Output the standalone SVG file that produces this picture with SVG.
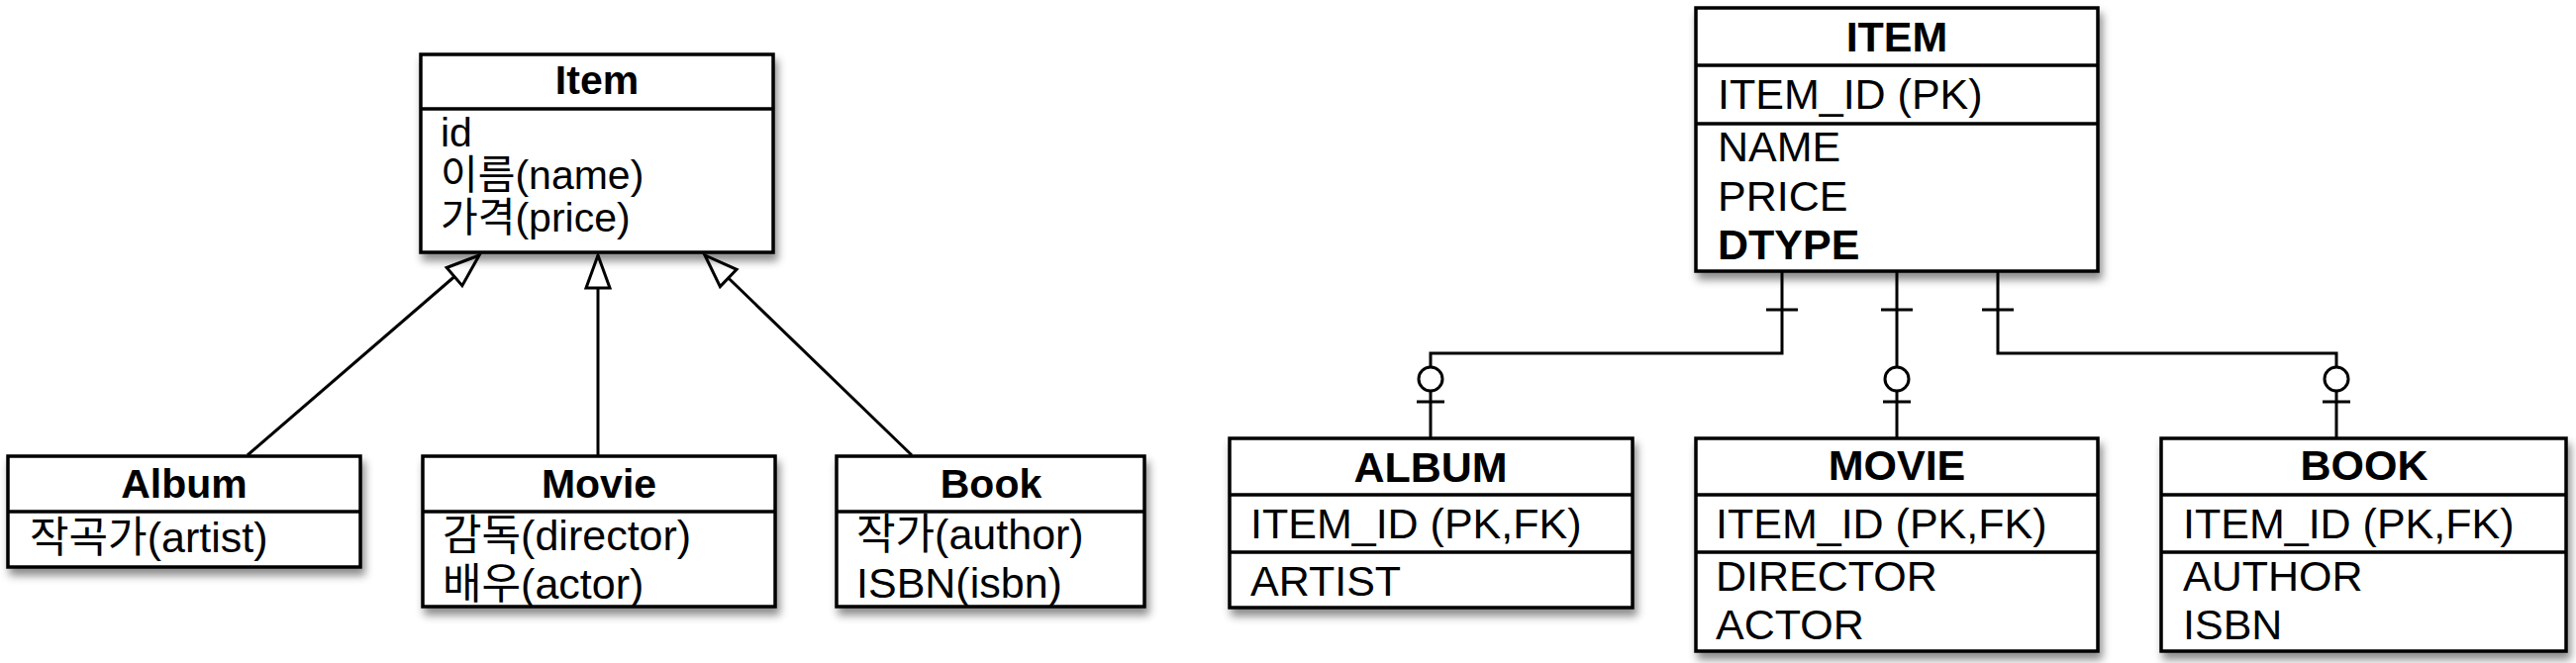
<svg xmlns="http://www.w3.org/2000/svg" width="2602" height="670" viewBox="0 0 2602 670">
<style>
.box{fill:#fff;stroke:#000;stroke-width:3.5;filter:url(#sh)}
.div{stroke:#000;stroke-width:3.5}
.t{font-family:"Liberation Sans","Noto Sans CJK KR",sans-serif;font-weight:bold;text-anchor:middle;fill:#000}
.b{font-family:"Liberation Sans","Noto Sans CJK KR",sans-serif;fill:#000}
.lt{font-size:41px}
.lb{font-size:43px}
.ib{font-size:41px}
.rt{font-size:43px}
.rb{font-size:43px}
.con{fill:none;stroke:#000;stroke-width:3}
.bar{stroke:#000;stroke-width:3}
.circ{fill:#fff;stroke:#000;stroke-width:3}
</style>
<defs>
<filter id="sh" x="-10%" y="-10%" width="125%" height="130%">
<feDropShadow dx="3" dy="7" stdDeviation="4" flood-color="#000" flood-opacity="0.45"/>
</filter>
<marker id="tri" viewBox="-36 -15 40 30" refX="0" refY="0" markerWidth="40" markerHeight="30" markerUnits="userSpaceOnUse" orient="auto">
<path d="M0,0 L-33,-12 L-33,12 Z" fill="#fff" stroke="#000" stroke-width="3" stroke-linejoin="miter"/>
</marker>
</defs>

<g id="connectors">
<line class="con" x1="250" y1="460" x2="484" y2="258" marker-end="url(#tri)"/>
<line class="con" x1="604" y1="460" x2="604" y2="258" marker-end="url(#tri)"/>
<line class="con" x1="921" y1="460" x2="712" y2="258" marker-end="url(#tri)"/>

<path class="con" d="M1800,274 V357 H1445 V443"/>
<line class="bar" x1="1784" y1="313" x2="1816" y2="313"/>
<line class="bar" x1="1431" y1="406" x2="1459" y2="406"/>
<circle class="circ" cx="1445" cy="383" r="12"/>

<path class="con" d="M1916,274 V443"/>
<line class="bar" x1="1900" y1="313" x2="1932" y2="313"/>
<line class="bar" x1="1902" y1="406" x2="1930" y2="406"/>
<circle class="circ" cx="1916" cy="383" r="12"/>

<path class="con" d="M2018,274 V357 H2360 V443"/>
<line class="bar" x1="2002" y1="313" x2="2034" y2="313"/>
<line class="bar" x1="2346" y1="406" x2="2374" y2="406"/>
<circle class="circ" cx="2360" cy="383" r="12"/>
</g>

<g id="item">
<rect class="box" x="425" y="55" width="356" height="200"/>
<line class="div" x1="425" y1="110" x2="781" y2="110"/>
<text class="t lt" x="603" y="95">Item</text>
<text class="b ib" x="445" y="148">id</text>
<text class="b ib" x="445" y="191">이름(name)</text>
<text class="b ib" x="445" y="234">가격(price)</text>
</g>

<g id="album">
<rect class="box" x="8" y="461" width="356" height="112"/>
<line class="div" x1="8" y1="517" x2="364" y2="517"/>
<text class="t lt" x="186" y="503">Album</text>
<text class="b lb" x="30" y="558">작곡가(artist)</text>
</g>

<g id="movie">
<rect class="box" x="427" y="461" width="356" height="152"/>
<line class="div" x1="427" y1="517" x2="783" y2="517"/>
<text class="t lt" x="605" y="503">Movie</text>
<text class="b lb" x="447" y="556">감독(director)</text>
<text class="b lb" x="447" y="605">배우(actor)</text>
</g>

<g id="book">
<rect class="box" x="845" y="461" width="311" height="152"/>
<line class="div" x1="845" y1="517" x2="1156" y2="517"/>
<text class="t lt" x="1001" y="503">Book</text>
<text class="b lb" x="865" y="555">작가(author)</text>
<text class="b lb" x="865" y="604">ISBN(isbn)</text>
</g>

<g id="ITEM">
<rect class="box" x="1713" y="8" width="406" height="266"/>
<line class="div" x1="1713" y1="66" x2="2119" y2="66"/>
<line class="div" x1="1713" y1="125" x2="2119" y2="125"/>
<text class="t rt" x="1916" y="52">ITEM</text>
<text class="b rb" x="1735" y="110">ITEM_ID (PK)</text>
<text class="b rb" x="1735" y="163">NAME</text>
<text class="b rb" x="1735" y="213">PRICE</text>
<text class="b rb" x="1735" y="262" font-weight="bold">DTYPE</text>
</g>

<g id="ALBUM">
<rect class="box" x="1242" y="443" width="407" height="171"/>
<line class="div" x1="1242" y1="500" x2="1649" y2="500"/>
<line class="div" x1="1242" y1="558" x2="1649" y2="558"/>
<text class="t rt" x="1445" y="487">ALBUM</text>
<text class="b rb" x="1263" y="544">ITEM_ID (PK,FK)</text>
<text class="b rb" x="1263" y="602">ARTIST</text>
</g>

<g id="MOVIE">
<rect class="box" x="1713" y="443" width="406" height="215"/>
<line class="div" x1="1713" y1="500" x2="2119" y2="500"/>
<line class="div" x1="1713" y1="558" x2="2119" y2="558"/>
<text class="t rt" x="1916" y="485">MOVIE</text>
<text class="b rb" x="1733" y="544">ITEM_ID (PK,FK)</text>
<text class="b rb" x="1733" y="597">DIRECTOR</text>
<text class="b rb" x="1733" y="646">ACTOR</text>
</g>

<g id="BOOK">
<rect class="box" x="2183" y="443" width="409" height="215"/>
<line class="div" x1="2183" y1="500" x2="2592" y2="500"/>
<line class="div" x1="2183" y1="558" x2="2592" y2="558"/>
<text class="t rt" x="2388" y="485">BOOK</text>
<text class="b rb" x="2205" y="544">ITEM_ID (PK,FK)</text>
<text class="b rb" x="2205" y="597">AUTHOR</text>
<text class="b rb" x="2205" y="646">ISBN</text>
</g>
</svg>
